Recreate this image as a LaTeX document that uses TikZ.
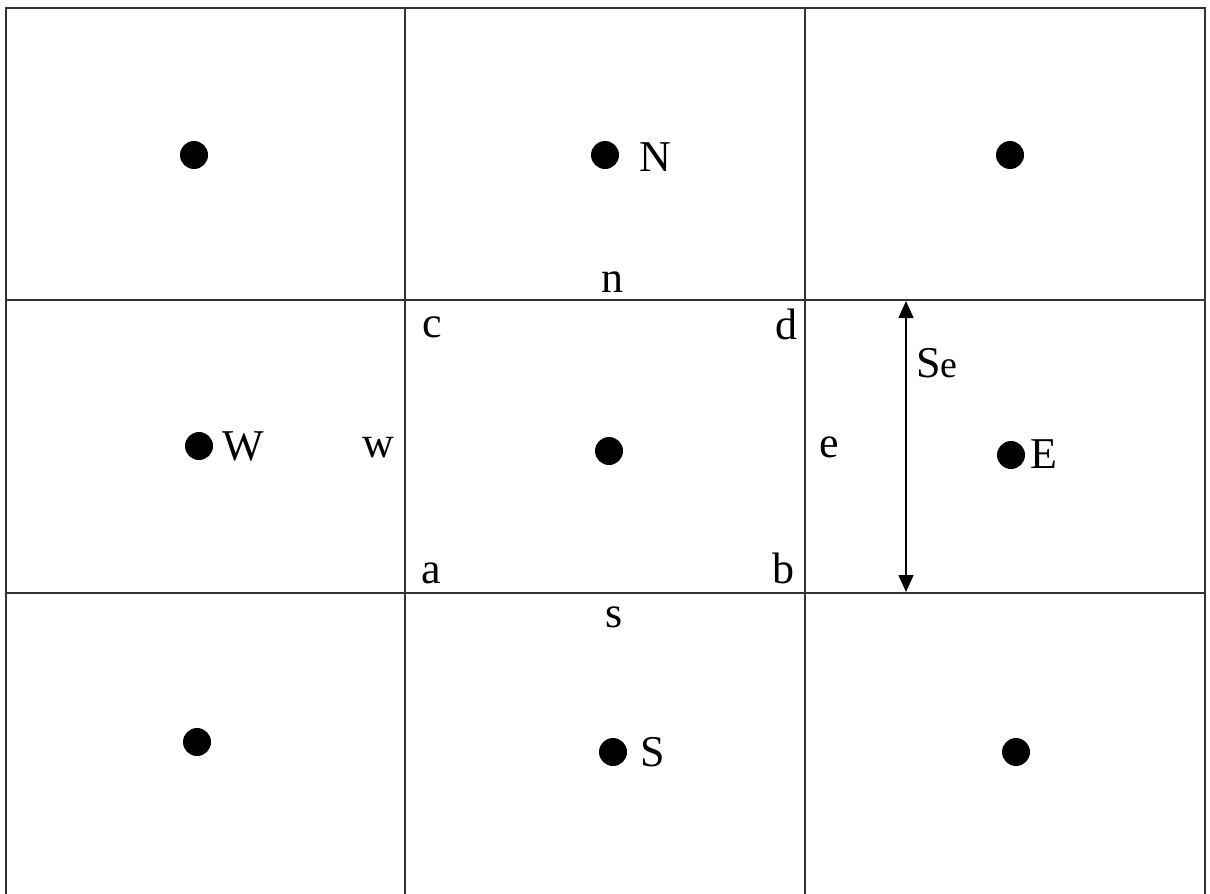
\documentclass[tikz,border=0pt]{standalone}
\usepackage{fontspec}
\setmainfont{Liberation Serif}
\usetikzlibrary{arrows.meta}
\begin{document}
\begin{tikzpicture}[x=1pt,y=-1pt,
  gridline/.style={line width=1.6pt, draw=black!80},
  nodept/.style={circle, fill=black, inner sep=0pt, minimum size=28pt},
  lbl/.style={inner sep=0pt, anchor=base, font=\fontsize{44}{48}\selectfont},
  dimarrow/.style={line width=1.6pt, {Triangle[length=17pt,width=15pt]}-{Triangle[length=17pt,width=15pt]}}]
\useasboundingbox (0,0) rectangle (1210,894);
% grid
\draw[gridline] (6,894) -- (6,8) -- (1205,8) -- (1205,894);
\draw[gridline] (405,8) -- (405,894);
\draw[gridline] (805,8) -- (805,894);
\draw[gridline] (6,300) -- (1205,300);
\draw[gridline] (6,593) -- (1205,593);
% points
\node[nodept] (NW) at (194,155) {};
\node[nodept] (N) at (605,155) {};
\node[nodept] (NE) at (1010,155) {};
\node[nodept] (W) at (199,446) {};
\node[nodept] (P) at (609,451) {};
\node[nodept] (E) at (1011,455) {};
\node[nodept] (SW) at (197,742) {};
\node[nodept] (S) at (613,752) {};
\node[nodept] (SE) at (1016,752) {};
% labels
\node[lbl] (lN) at (655,171) {N};
\node[lbl] (lW) at (243,460) {W};
\node[lbl] (lw) at (378,457) {w};
\node[lbl] (lc) at (432,337) {c};
\node[lbl] (ld) at (786,339) {d};
\node[lbl] (le) at (829,457) {e};
\node[lbl] (la) at (431,583) {a};
\node[lbl] (lb) at (783,583) {b};
\node[lbl] (ln) at (612,292) {n};
\node[lbl] (ls) at (614,627) {s};
\node[lbl] (lS) at (653,766) {S};
\node[lbl] (lE) at (1044,468) {E};
\node[lbl, anchor=base west] (lSe) at (916,377) {S\fontsize{38}{40}\selectfont e};
% dimension arrow
\coordinate (At) at (906,301);
\coordinate (Ab) at (906,592);
\draw[dimarrow] (At) -- (Ab);
\end{tikzpicture}
\end{document}
